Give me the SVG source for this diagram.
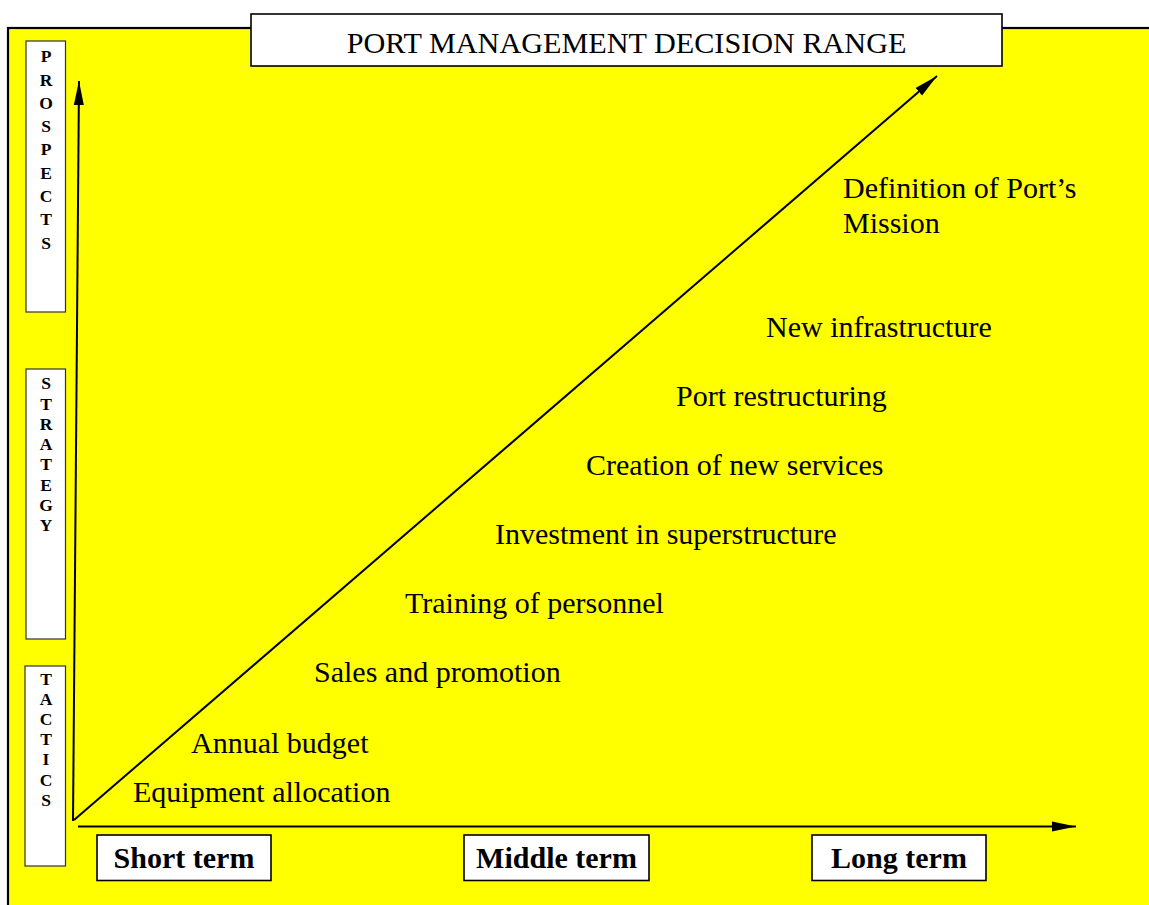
<svg xmlns="http://www.w3.org/2000/svg" width="1149" height="905" viewBox="0 0 1149 905">
  <style>
    .label { font-family: "Liberation Serif", "Times New Roman", serif; font-size: 30px; fill: #000; }
    .title { font-family: "Liberation Serif", "Times New Roman", serif; font-size: 30.2px; fill: #000; }
    .term { font-family: "Liberation Serif", "Times New Roman", serif; font-size: 30px; font-weight: bold; fill: #000; }
    .vert { font-family: "Liberation Serif", "Times New Roman", serif; font-size: 17.5px; font-weight: bold; fill: #000; }
    .box { fill: #fff; stroke: #000; stroke-width: 1.6; }
    .vbox { fill: #fff; stroke: #333; stroke-width: 1.2; }
    .axis { fill: none; stroke: #000; stroke-width: 2; }
  </style>
  <defs>
    <marker id="arrow" markerUnits="userSpaceOnUse" markerWidth="25" markerHeight="11" refX="24" refY="5.5" orient="auto" viewBox="0 0 25 11">
      <path d="M0,0.5 L24,5.5 L0,10.5 Z" fill="#000"/>
    </marker>
  </defs>

  <!-- background panel -->
  <rect x="8" y="28" width="1160" height="900" fill="#ffff00" stroke="#000" stroke-width="2.2"/>

  <!-- title -->
  <g id="title">
    <rect class="box" x="251" y="14" width="751" height="52"/>
    <text class="title" x="626.5" y="53" text-anchor="middle">PORT MANAGEMENT DECISION RANGE</text>
  </g>

  <!-- vertical level boxes -->
  <g id="prospects">
    <rect class="vbox" x="26" y="41" width="39.5" height="271"/>
    <g class="vert" text-anchor="middle">
      <text x="46" y="62">P</text>
      <text x="46" y="85.5">R</text>
      <text x="46" y="108.5">O</text>
      <text x="46" y="132">S</text>
      <text x="46" y="155">P</text>
      <text x="46" y="178.5">E</text>
      <text x="46" y="202">C</text>
      <text x="46" y="225">T</text>
      <text x="46" y="248.5">S</text>
    </g>
  </g>
  <g id="strategy">
    <rect class="vbox" x="26" y="369" width="39.5" height="270"/>
    <g class="vert" text-anchor="middle">
      <text x="46" y="389">S</text>
      <text x="46" y="409.5">T</text>
      <text x="46" y="430">R</text>
      <text x="46" y="450">A</text>
      <text x="46" y="470">T</text>
      <text x="46" y="491">E</text>
      <text x="46" y="511">G</text>
      <text x="46" y="531">Y</text>
    </g>
  </g>
  <g id="tactics">
    <rect class="vbox" x="25" y="666" width="40.5" height="200"/>
    <g class="vert" text-anchor="middle">
      <text x="46" y="685">T</text>
      <text x="46" y="705">A</text>
      <text x="46" y="725">C</text>
      <text x="46" y="745">T</text>
      <text x="46" y="765">I</text>
      <text x="46" y="785.5">C</text>
      <text x="46" y="806">S</text>
    </g>
  </g>

  <!-- axes and range arrow -->
  <g id="connectors">
    <line class="axis" x1="73" y1="821" x2="79" y2="81" marker-end="url(#arrow)"/>
    <line class="axis" x1="74" y1="820" x2="937" y2="76" marker-end="url(#arrow)"/>
    <line class="axis" x1="78" y1="826.5" x2="1076" y2="826.5" marker-end="url(#arrow)"/>
  </g>

  <!-- time horizon boxes -->
  <g id="short-term">
    <rect class="box" x="97" y="835" width="174" height="45.5"/>
    <text class="term" x="184" y="867.5" text-anchor="middle">Short term</text>
  </g>
  <g id="middle-term">
    <rect class="box" x="464" y="835" width="185" height="45.5"/>
    <text class="term" x="556.5" y="867.5" text-anchor="middle">Middle term</text>
  </g>
  <g id="long-term">
    <rect class="box" x="812" y="835" width="174" height="45.5"/>
    <text class="term" x="899" y="867.5" text-anchor="middle">Long term</text>
  </g>

  <!-- decisions -->
  <g id="mission">
    <text class="label" x="843" y="198">Definition of Port’s</text>
    <text class="label" x="843" y="233">Mission</text>
  </g>
  <g id="infrastructure"><text class="label" x="766" y="337">New infrastructure</text></g>
  <g id="restructuring"><text class="label" x="676" y="406">Port restructuring</text></g>
  <g id="new-services"><text class="label" x="586" y="475">Creation of new services</text></g>
  <g id="superstructure"><text class="label" x="495" y="544">Investment in superstructure</text></g>
  <g id="training"><text class="label" x="405" y="613">Training of personnel</text></g>
  <g id="sales"><text class="label" x="314" y="682">Sales and promotion</text></g>
  <g id="budget"><text class="label" x="191" y="753">Annual budget</text></g>
  <g id="equipment"><text class="label" x="133" y="802">Equipment allocation</text></g>
</svg>
